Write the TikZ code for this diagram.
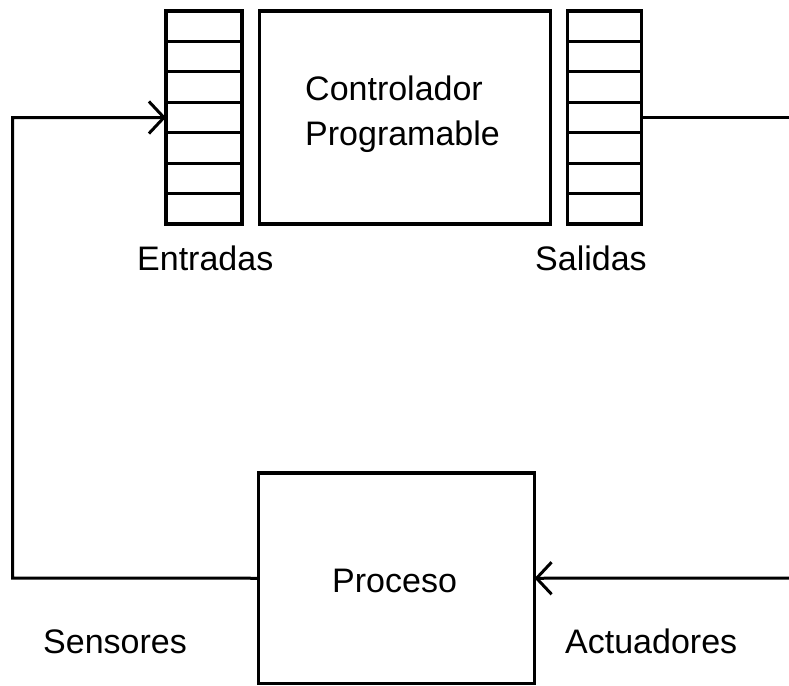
\documentclass[tikz,border=0pt]{standalone}
\usepackage{fontspec}
\setmainfont{Liberation Sans}
\usetikzlibrary{arrows.meta,calc}

\begin{document}
\begin{tikzpicture}[x=1pt,y=-1pt,
  box/.style={draw,line width=3.2pt,inner sep=0pt,outer sep=0pt,rectangle},
  conn/.style={line width=3pt},
  tip/.style={-{Straight Barb[length=15pt,width=32pt,line width=3pt]}},
  lbl/.style={anchor=base west,inner sep=0pt,font=\fontsize{34}{45}\selectfont}]
\useasboundingbox (0,0) rectangle (789,685);
\fill[white] (0,0) rectangle (789,685);
\clip (0,0) rectangle (789,685);

% controller with its input and output registers
\node[box,minimum width=76pt,minimum height=213pt] (inreg) at (204,117.5) {};
\node[box,minimum width=291pt,minimum height=213pt] (ctrl) at (405,117.5) {};
\node[box,minimum width=74pt,minimum height=213pt] (outreg) at (604.5,117.5) {};
\foreach \r in {inreg,outreg}{
  \foreach \k in {1,...,6}{
    \draw[line width=3.2pt] ($(\r.north west)!\k/7!(\r.south west)$) -- ($(\r.north east)!\k/7!(\r.south east)$);
  }
}

% process block
\node[box,minimum width=276pt,minimum height=210.5pt] (proc) at (396.5,578.25) {};

% texts
\node[lbl,align=left,anchor=north west] (ctrltxt) at (305,76) {Controlador\\Programable};
\node[lbl] (proctxt) at (332,592) {Proceso};
\node[lbl] (intxt) at (137,270) {Entradas};
\node[lbl] (outtxt) at (535,270) {Salidas};
\node[lbl] (senstxt) at (43,653) {Sensores};
\node[lbl] (acttxt) at (565,653) {Actuadores};

% feedback loop
\coordinate (lefttop) at (12.5,117.5);
\coordinate (leftbot) at (12.5,578);
\coordinate (righttop) at (820,117.5);
\coordinate (rightbot) at (820,578);
\draw[conn] (outreg.east) -- (righttop) -- (rightbot);
\draw[conn,tip] (rightbot) -- (proc.east);
\draw[conn,tip] (proc.west) -- (leftbot) -- (lefttop) -- (inreg.west);
\end{tikzpicture}
\end{document}
